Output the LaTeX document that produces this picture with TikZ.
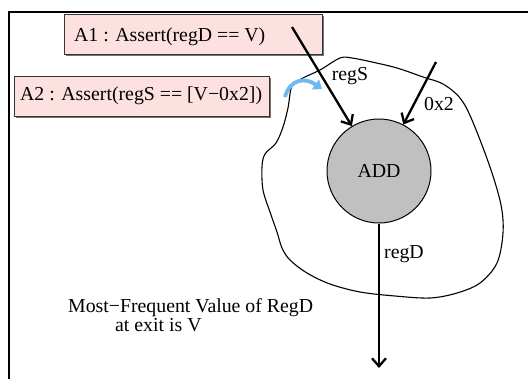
\documentclass[tikz,border=0pt]{standalone}
\usepackage{fontspec}
\setmainfont{Liberation Serif}
\usetikzlibrary{arrows.meta}
\definecolor{notepink}{RGB}{253,224,224}
\definecolor{opgray}{RGB}{192,192,192}
\definecolor{hintblue}{RGB}{110,185,240}
\tikzset{
  txt/.style={font=\fontsize{19.8pt}{22pt}\selectfont, inner sep=0pt, anchor=base west},
  lbl/.style={font=\fontsize{19.8pt}{22pt}\selectfont, inner sep=0pt},
  notebox/.style={draw=black!80, line width=1pt, fill=notepink, inner sep=0pt,
    rectangle, anchor=north west},
  flow/.style={line width=2.3pt, -{Straight Barb[length=8pt,width=14pt,line width=2.3pt]}},
  wire/.style={line width=2.3pt}
}
\begin{document}
\begin{tikzpicture}[x=1pt,y=-1pt]
\useasboundingbox (0,0) rectangle (528,378);
\fill[white] (0,0) rectangle (528,378);

% page frame (only its top and left edges fall on the sheet)
\draw[line width=1.2pt] (9,380) -- (9,12) -- (530,12);

% the region around the operation
\draw[line width=1.1pt] plot[smooth cycle, tension=0.55] coordinates {
  (292,86) (303,78) (320,70) (340,58) (352,58) (372,62) (397,68) (423,77)
  (443,84) (460,98) (472,120) (490,167) (501,205) (503,233) (497,263)
  (480,283) (457,293) (430,298) (395,296) (360,292) (330,284) (307,273)
  (290,260) (282,248) (277,232) (270,212) (263,190) (262,167) (265,154)
  (276,143) (283,127) (288,108)};

% assertion boxes (with a slight drop shadow)
\fill[black!55] (65.5,15.5) rectangle (323.5,56);
\node[notebox, minimum width=258pt, minimum height=40pt] (a1box) at (64,14) {};
\node[txt] (a1) at (74,41.7) {A1 : Assert(regD == V)};

\fill[black!55] (15.5,77.5) rectangle (270.5,118);
\node[notebox, minimum width=255pt, minimum height=40pt] (a2box) at (14,76) {};
\node[txt] (a2) at (20,100) {A2 : Assert(regS == [V\textminus0x2])};

% the operation
\node[circle, draw, line width=1pt, fill=opgray, minimum size=104pt, inner sep=0pt,
      font=\fontsize{19.8pt}{22pt}\selectfont] (add) at (379,171) {ADD};

% operands and result
\coordinate (srcS) at (292,27);
\coordinate (srcK) at (436,62);
\coordinate (exit) at (379,368);
\draw[flow] (srcS) -- (add);
\draw[flow] (srcK) -- (add);
\draw[flow] (add.south) -- (exit);

\node[lbl] (lS) at (350,76) {regS};
\node[lbl] (lK) at (439,104) {0x2};
\node[lbl] (lD) at (404,254) {regD};

% hint arrow from the assertion to the operand
\coordinate (h0) at (285,97);
\coordinate (h1) at (322,89);
\draw[hintblue, line width=3.8pt, -{Triangle[length=8pt,width=12pt]}]
  (h0) .. controls (290,79) and (305,77) .. (h1);

% note about the exit value
\node[txt] (m1) at (68,312) {Most\textminus Frequent Value of RegD};
\node[txt] (m2) at (115,331) {at exit is V};
\end{tikzpicture}
\end{document}
